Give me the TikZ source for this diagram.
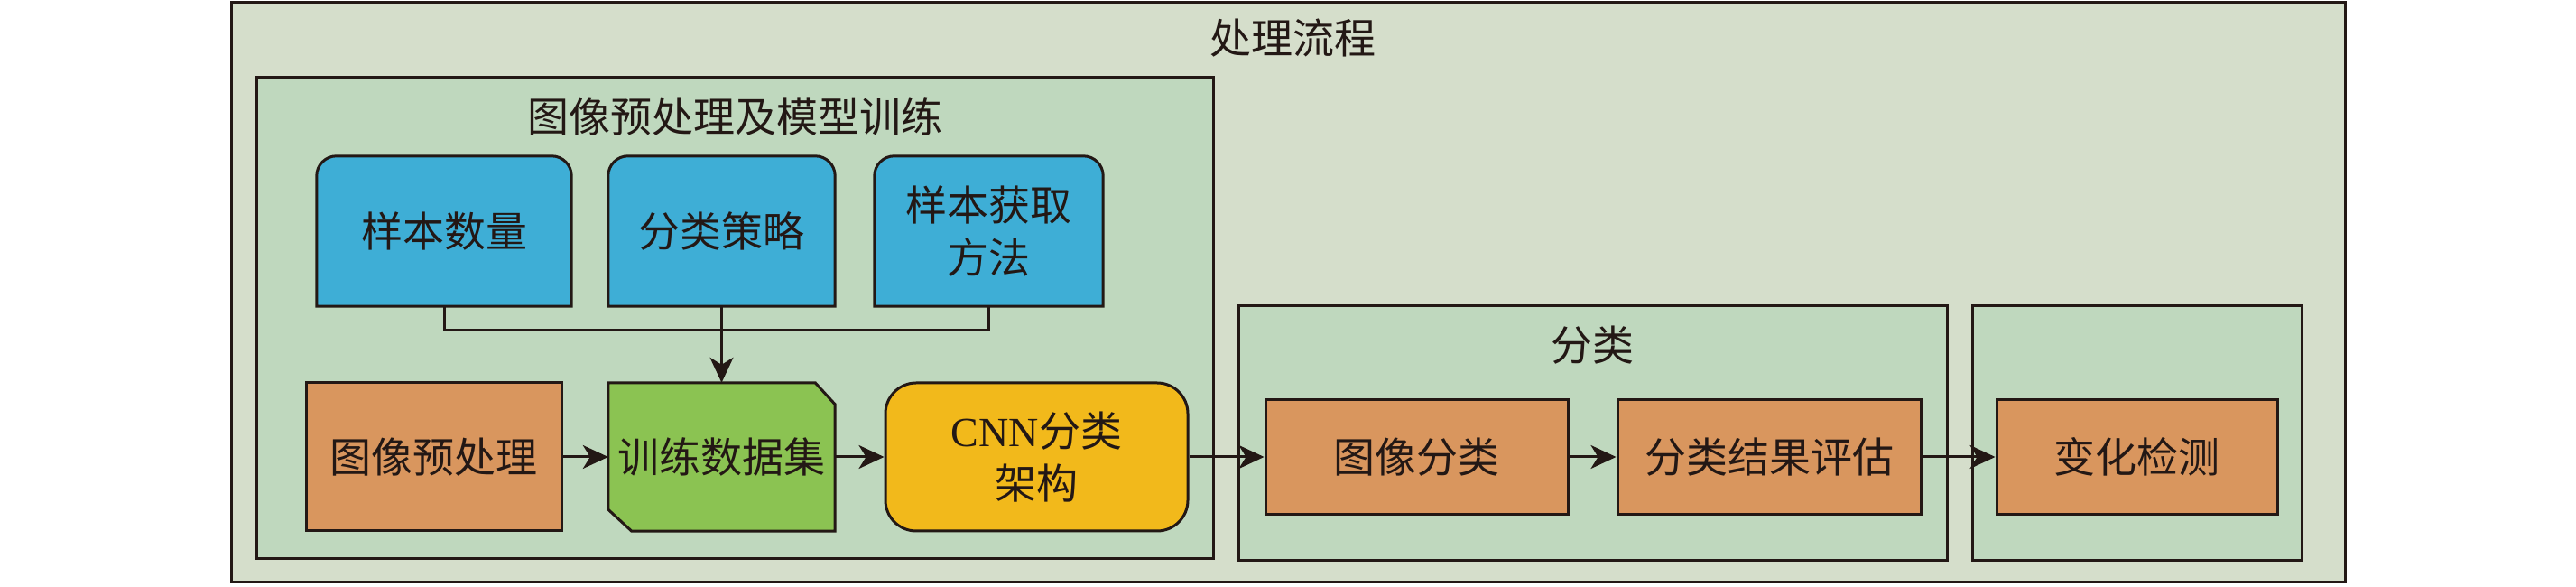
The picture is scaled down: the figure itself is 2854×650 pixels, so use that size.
\documentclass[tikz,border=0pt]{standalone}
\usepackage{fontspec}
\setmainfont{Liberation Serif}
\newfontfamily\cjk{Noto Sans CJK SC}
\usetikzlibrary{arrows.meta,backgrounds,calc}
\definecolor{213_222_203}{RGB}{213, 222, 203}
\definecolor{191_216_190}{RGB}{191, 216, 190}
\definecolor{62_174_214}{RGB}{62, 174, 214}
\definecolor{217_150_94}{RGB}{217, 150, 94}
\definecolor{139_195_82}{RGB}{139, 195, 82}
\definecolor{242_185_27}{RGB}{242, 185, 27}
\definecolor{35_24_21}{RGB}{35, 24, 21}

\begin{document}
\begin{tikzpicture}[
        x=1pt,
        y=1pt,
        every node/.style={
            font=\cjk\fontsize{46}{58}\selectfont,
            text=35_24_21,
            align=center,
            inner sep=0pt
        },
        frame/.style={draw=35_24_21, line width=3pt, fill=213_222_203},
        group/.style={draw=35_24_21, line width=3pt, fill=191_216_190, minimum height=282pt},
        source/.style={minimum height=166pt},
        tab/.style={draw=35_24_21, line width=3pt, fill=62_174_214},
        chamfer/.style={draw=35_24_21, line width=3pt, fill=139_195_82},
        process/.style={draw=35_24_21, line width=3pt, fill=217_150_94, minimum height=164pt},
        result/.style={draw=35_24_21, line width=3pt, fill=217_150_94, minimum height=127pt},
        model/.style={draw=35_24_21, line width=3pt, fill=242_185_27, rounded corners=34pt, minimum height=164pt},
        link/.style={draw=35_24_21, line width=3pt},
        feed/.style={link, -{Stealth[length=28pt, width=26pt, inset=8pt]}}
    ]
    \useasboundingbox (0,0) rectangle (2854,650);

    \begin{scope}[on background layer]
        \node[frame, minimum width=2342pt, minimum height=642pt] (flow) at (1427,326) {};
        \node[group, minimum width=1060pt, minimum height=533pt] (train) at (814,297.5) {};
        \node[group, minimum width=785pt] (classify) at (1764.5,170) {};
        \node[group, minimum width=365pt] (detect) at (2367.5,170) {};
    \end{scope}

    \node (flowtitle) at (1432,608) {处理流程};
    \node (traintitle) at (814,521) {图像预处理及模型训练};
    \node (classifytitle) at (1764,268) {分类};

    \node[source, minimum width=282pt] (count) at (492,394) {样本数量};
    \node[source, minimum width=251pt] (policy) at (799.5,394) {分类策略};
    \node[source, minimum width=253pt] (method) at (1095.5,394) {样本获取\\方法};

    \node[process, minimum width=283pt] (prep) at (480.5,144) {图像预处理};
    \node[minimum width=251pt, minimum height=164pt] (data) at (799.5,144) {训练数据集};
    \node[model, minimum width=335pt] (cnn) at (1148.5,144) {{\rmfamily CNN}分类\\架构};
    \node[result, minimum width=335pt] (imgcls) at (1569.5,144) {图像分类};
    \node[result, minimum width=336pt] (assess) at (1960,144) {分类结果评估};
    \node[result, minimum width=311pt] (change) at (2367.5,144) {变化检测};

    \begin{scope}[on background layer]
        \foreach \n in {count,policy,method}
            \draw[tab] (\n.south west) -- ($(\n.north west)+(0,-22)$)
                arc[start angle=180, end angle=90, radius=22pt]
                -- ($(\n.north east)+(-22,0)$)
                arc[start angle=90, end angle=0, radius=22pt]
                -- (\n.south east) -- cycle;
        \draw[chamfer] ($(data.south west)+(0,24)$) -- (data.north west)
            -- ($(data.north east)+(-22,0)$) -- ($(data.north east)+(0,-24)$)
            -- (data.south east) -- ($(data.south west)+(26,0)$) -- cycle;
    \end{scope}

    \coordinate (bus) at (799.5,284);
    \draw[link] (count.south) |- (bus) -| (method.south);
    \draw[feed] (policy.south) -- (data.north);
    \draw[feed] (prep) -- (data);
    \draw[feed] (data) -- (cnn);
    \draw[feed] (cnn) -- (imgcls);
    \draw[feed] (imgcls) -- (assess);
    \draw[feed] (assess) -- (change);
\end{tikzpicture}
\end{document}
